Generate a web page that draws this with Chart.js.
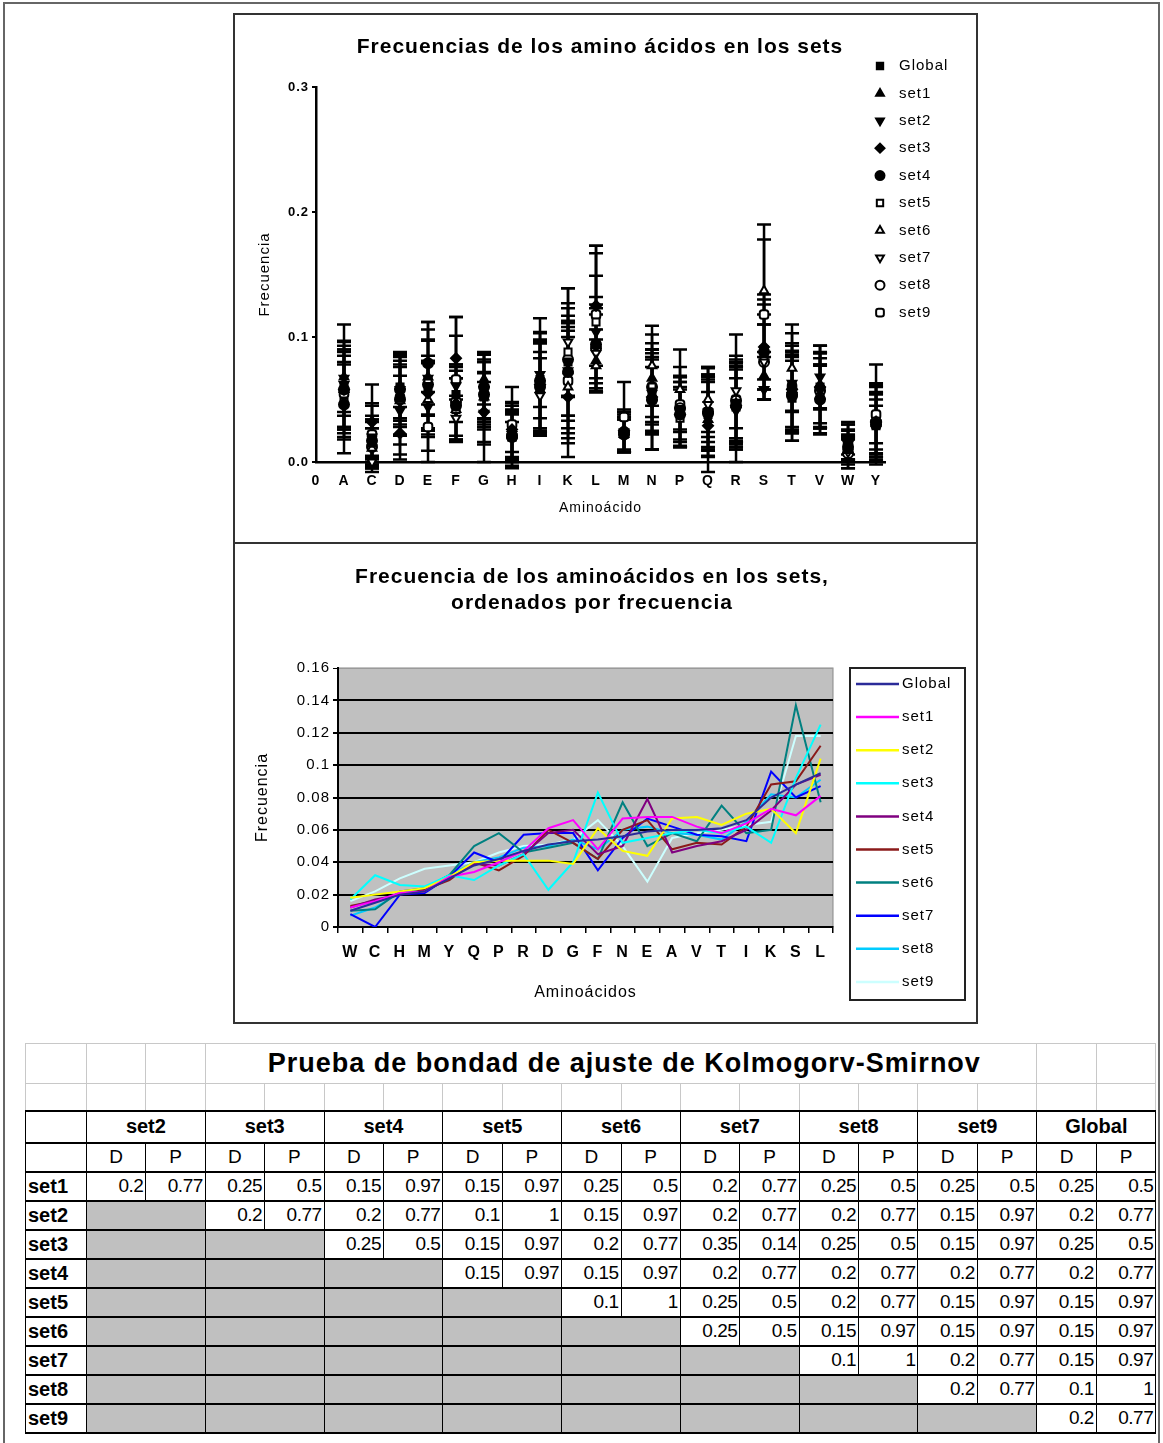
<!DOCTYPE html>
<html>
<head>
<meta charset="utf-8">
<script src="https://cdn.jsdelivr.net/npm/chart.js@4.4.1/dist/chart.umd.min.js"></script>
<style>
  body { margin: 0; background: #fff; font-family: "Liberation Sans", Arial, sans-serif; }
  #marco { position: absolute; left: 3px; top: 2px; width: 1157px; height: 1460px; border: 2px solid #666; box-sizing: border-box; }
  .caja { position: absolute; left: 233px; width: 745px; border: 2px solid #333; box-sizing: border-box; background: #fff; }
  #caja1 { top: 13px; height: 531px; }
  #caja2 { top: 542px; height: 482px; }
  .caja canvas { display: block; }
  #tabla { position: absolute; left: 25px; top: 1043px; width: 1130px; border-collapse: collapse; table-layout: fixed; }
  #tabla td { padding: 0; overflow: hidden; white-space: nowrap; font-family: "Liberation Sans Narrow", "Liberation Sans", Arial, sans-serif; font-size: 19px; color: #000; }
  #tabla td.g { border: 1px solid #c8c8c8; }
  #tabla td.titulo { font-family: "Liberation Sans", Arial, sans-serif; font-weight: bold; font-size: 27px; letter-spacing: 1px; text-align: left; padding-left: 62px; }
  #tabla tr.r0 { height: 40px; }
  #tabla tr.r1 { height: 27px; }
  #tabla tr.rh { height: 32px; }
  #tabla tr.rdp { height: 29px; }
  #tabla tr.rd { height: 29px; }
  #tabla tr.rh td, #tabla tr.rdp td, #tabla tr.rd td { border: 1px solid #000; border-top: 2px solid #000; border-bottom: 2px solid #000; }
  #tabla td.cab { font-weight: bold; text-align: center; font-size: 20px; }
  #tabla td.dp { text-align: center; }
  #tabla td.lab { font-weight: bold; text-align: left; padding-left: 2px; font-size: 20px; }
  #tabla td.num { text-align: right; padding-right: 2px; letter-spacing: -0.5px; }
  #tabla td.gris { background: #c0c0c0; }
</style>
</head>
<body>
<div id="marco"></div>
<div class="caja" id="caja1"><canvas id="graf1" width="741" height="527"></canvas></div>
<div class="caja" id="caja2"><canvas id="graf2" width="741" height="478"></canvas></div>
<table id="tabla"></table>

<script>
// amino acids ordered by global frequency (second chart)
const sortedLetters = ["W","C","H","M","Y","Q","P","R","D","G","F","N","E","A","V","T","I","K","S","L"];
// alphabetical order (first chart)
const alphaLetters = ["A","C","D","E","F","G","H","I","K","L","M","N","P","Q","R","S","T","V","W","Y"];
const seriesNames = ["Global","set1","set2","set3","set4","set5","set6","set7","set8","set9"];

// frequencies, in sortedLetters order
const freqGlobal = [0.010,0.015,0.020,0.022,0.030,0.038,0.042,0.047,0.051,0.053,0.054,0.056,0.059,0.060,0.060,0.061,0.066,0.080,0.088,0.095];
const freqSet1 = [0.012,0.016,0.021,0.022,0.031,0.034,0.040,0.047,0.061,0.066,0.048,0.067,0.068,0.068,0.062,0.058,0.064,0.073,0.069,0.081];
const freqSet2 = [0.018,0.020,0.022,0.024,0.031,0.040,0.041,0.041,0.041,0.039,0.061,0.047,0.044,0.067,0.068,0.063,0.070,0.073,0.058,0.104];
const freqSet3 = [0.017,0.032,0.026,0.025,0.032,0.029,0.038,0.045,0.023,0.040,0.083,0.052,0.055,0.058,0.060,0.058,0.062,0.052,0.092,0.125];
const freqSet4 = [0.012,0.017,0.020,0.022,0.030,0.039,0.038,0.045,0.058,0.060,0.045,0.050,0.079,0.046,0.050,0.053,0.060,0.072,0.088,0.094];
const freqSet5 = [0.013,0.016,0.020,0.023,0.029,0.040,0.035,0.044,0.060,0.052,0.042,0.060,0.066,0.048,0.052,0.051,0.062,0.088,0.090,0.112];
const freqSet6 = [0.010,0.011,0.022,0.024,0.032,0.050,0.058,0.046,0.049,0.052,0.042,0.077,0.050,0.058,0.053,0.075,0.058,0.060,0.137,0.077];
const freqSet7 = [0.008,0.000,0.020,0.021,0.031,0.046,0.040,0.057,0.058,0.058,0.035,0.055,0.067,0.062,0.057,0.056,0.053,0.096,0.080,0.087];
const freqSet8 = [0.007,0.012,0.021,0.024,0.032,0.040,0.043,0.049,0.050,0.054,0.048,0.060,0.062,0.058,0.057,0.054,0.065,0.082,0.080,0.091];
const freqSet9 = [0.016,0.022,0.030,0.036,0.038,0.040,0.046,0.050,0.051,0.054,0.066,0.050,0.028,0.055,0.058,0.060,0.063,0.065,0.118,0.118];

// error bar half-widths, in alphaLetters order
const errGlobal = [0.020,0.012,0.018,0.022,0.022,0.018,0.012,0.022,0.028,0.028,0.012,0.020,0.018,0.018,0.020,0.030,0.020,0.018,0.008,0.015];
const errSet1 = [0.042,0.018,0.026,0.030,0.030,0.020,0.020,0.040,0.040,0.025,0.014,0.035,0.028,0.030,0.030,0.019,0.035,0.031,0.010,0.030];
const errSet2 = [0.030,0.025,0.035,0.035,0.040,0.025,0.025,0.045,0.050,0.045,0.016,0.037,0.028,0.030,0.041,0.008,0.040,0.025,0.012,0.025];
const errSet3 = [0.035,0.030,0.021,0.030,0.033,0.040,0.022,0.035,0.048,0.048,0.017,0.030,0.026,0.037,0.035,0.042,0.030,0.033,0.015,0.028];
const errSet4 = [0.039,0.020,0.028,0.033,0.028,0.026,0.020,0.038,0.045,0.038,0.014,0.040,0.026,0.030,0.035,0.038,0.036,0.028,0.014,0.020];
const errSet5 = [0.030,0.018,0.025,0.040,0.025,0.020,0.018,0.035,0.051,0.055,0.015,0.035,0.023,0.028,0.030,0.040,0.034,0.025,0.012,0.025];
const errSet6 = [0.032,0.016,0.035,0.030,0.025,0.036,0.020,0.037,0.045,0.021,0.016,0.032,0.032,0.026,0.030,0.053,0.035,0.030,0.010,0.031];
const errSet7 = [0.034,0.005,0.030,0.045,0.018,0.028,0.025,0.030,0.043,0.031,0.013,0.032,0.028,0.030,0.045,0.030,0.030,0.030,0.013,0.024];
const errSet8 = [0.030,0.020,0.028,0.035,0.030,0.028,0.018,0.030,0.045,0.035,0.016,0.030,0.025,0.035,0.030,0.030,0.030,0.030,0.012,0.030];
const errSet9 = [0.035,0.025,0.030,0.028,0.050,0.026,0.030,0.040,0.046,0.055,0.028,0.040,0.030,0.030,0.035,0.060,0.035,0.030,0.014,0.040];

// Kolmogorov-Smirnov table
const ksCols = ["set2","set3","set4","set5","set6","set7","set8","set9","Global"];
const ksRows = ["set1","set2","set3","set4","set5","set6","set7","set8","set9"];
const ksD = [
  [0.2,0.25,0.15,0.15,0.25,0.2,0.25,0.25,0.25],
  [0.2,0.2,0.1,0.15,0.2,0.2,0.15,0.2],
  [0.25,0.15,0.2,0.35,0.25,0.15,0.25],
  [0.15,0.15,0.2,0.2,0.2,0.2],
  [0.1,0.25,0.2,0.15,0.15],
  [0.25,0.15,0.15,0.15],
  [0.1,0.2,0.15],
  [0.2,0.1],
  [0.2]
];
const ksP = [
  [0.77,0.5,0.97,0.97,0.5,0.77,0.5,0.5,0.5],
  [0.77,0.77,1,0.97,0.77,0.77,0.97,0.77],
  [0.5,0.97,0.77,0.14,0.5,0.97,0.5],
  [0.97,0.97,0.77,0.77,0.77,0.77],
  [1,0.5,0.77,0.97,0.97],
  [0.5,0.97,0.97,0.97],
  [1,0.77,0.97],
  [0.77,1],
  [0.77]
];

const freqs = [freqGlobal,freqSet1,freqSet2,freqSet3,freqSet4,freqSet5,freqSet6,freqSet7,freqSet8,freqSet9];
const errs = [errGlobal,errSet1,errSet2,errSet3,errSet4,errSet5,errSet6,errSet7,errSet8,errSet9];

// styles
const markers = [
  {pointStyle: "rect", rotation: 0, filled: true},
  {pointStyle: "triangle", rotation: 0, filled: true},
  {pointStyle: "triangle", rotation: 180, filled: true},
  {pointStyle: "rectRot", rotation: 0, filled: true},
  {pointStyle: "circle", rotation: 0, filled: true},
  {pointStyle: "rect", rotation: 0, filled: false},
  {pointStyle: "triangle", rotation: 0, filled: false},
  {pointStyle: "triangle", rotation: 180, filled: false},
  {pointStyle: "circle", rotation: 0, filled: false},
  {pointStyle: "rectRounded", rotation: 0, filled: false},
];
const lineColors = ["#2b2b99","#ff00ff","#ffff00","#00ffff","#800080","#8b1a1a","#008080","#0000ff","#00ccff","#ccffff"];

Chart.defaults.font.family = '"Liberation Sans", Arial, sans-serif';
Chart.defaults.color = "#000";

// slightly wider letter spacing, like the scanned original
const spacing = {
  id: "spacing",
  beforeDraw(chart) { chart.ctx.letterSpacing = "1px"; }
};

// ---------- chart 1 ----------
const errorBars = {
  id: "errorBars",
  beforeDatasetsDraw(chart) {
    const ctx = chart.ctx;
    const ys = chart.scales.y;
    chart.data.datasets.forEach((ds, i) => {
      const meta = chart.getDatasetMeta(i);
      meta.data.forEach((pt, j) => {
        const v = ds.data[j].y, e = ds.errores[j];
        const top = ys.getPixelForValue(v + e), bot = ys.getPixelForValue(v - e);
        ctx.save();
        ctx.strokeStyle = "#000";
        ctx.lineWidth = 2.5;
        ctx.beginPath();
        ctx.moveTo(pt.x, top); ctx.lineTo(pt.x, bot);
        ctx.moveTo(pt.x - 7, top); ctx.lineTo(pt.x + 7, top);
        ctx.moveTo(pt.x - 7, bot); ctx.lineTo(pt.x + 7, bot);
        ctx.stroke();
        ctx.restore();
      });
    });
  }
};

const extras1 = {
  id: "extras1",
  afterDraw(chart) {
    const ctx = chart.ctx;
    ctx.save();
    ctx.fillStyle = "#000";
    ctx.textAlign = "center";
    ctx.textBaseline = "middle";
    ctx.letterSpacing = "1px";
    ctx.font = 'bold 21px "Liberation Sans", Arial, sans-serif';
    ctx.fillText("Frecuencias de los amino ácidos en los sets", 365, 32);
    // legend
    ctx.font = '15px "Liberation Sans", Arial, sans-serif';
    ctx.textAlign = "left";
    chart.data.datasets.forEach((ds, i) => {
      const y = 51 + i * 27.4;
      ctx.fillStyle = ds.pointBackgroundColor;
      ctx.strokeStyle = "#000";
      ctx.lineWidth = 2;
      Chart.helpers.drawPoint(ctx, {pointStyle: ds.pointStyle, rotation: ds.pointRotation, radius: 4.5, borderWidth: 2}, 645, y);
      ctx.fillStyle = "#000";
      ctx.fillText(ds.label, 664, y);
    });
    ctx.restore();
  }
};

const datasets1 = freqs.map((f, i) => ({
  label: seriesNames[i],
  data: alphaLetters.map((l, k) => ({x: k + 1, y: f[sortedLetters.indexOf(l)]})),
  errores: errs[i],
  pointStyle: markers[i].pointStyle,
  pointRotation: markers[i].rotation,
  pointRadius: 5,
  pointBorderWidth: 2,
  pointBorderColor: "#000",
  pointBackgroundColor: markers[i].filled ? "#000" : "#fff",
  showLine: false,
  clip: false,
}));

new Chart(document.getElementById("graf1"), {
  type: "scatter",
  data: {datasets: datasets1},
  options: {
    responsive: false,
    animation: false,
    layout: {padding: {top: 72, right: 91, left: 0, bottom: 0}},
    plugins: {legend: {display: false}, tooltip: {enabled: false}},
    scales: {
      x: {
        type: "linear",
        min: 0,
        max: 20.32,
        afterFit: s => { s.height = 80; },
        border: {color: "#000", width: 2.5},
        grid: {display: false, drawTicks: false},
        ticks: {
          stepSize: 1,
          includeBounds: false,
          autoSkip: false,
          maxRotation: 0,
          padding: 11,
          font: {size: 14, weight: "bold"},
          callback: v => Number.isInteger(v) ? ["0"].concat(alphaLetters)[v] : "",
        },
        title: {display: true, text: "Aminoácido", font: {size: 14}, padding: {top: 0, bottom: 25}},
      },
      y: {
        min: 0,
        max: 0.3,
        afterFit: s => { s.width = 81; },
        border: {color: "#000", width: 2.5},
        grid: {drawOnChartArea: false, drawTicks: true, tickLength: 4, tickColor: "#000", lineWidth: 2},
        ticks: {stepSize: 0.1, padding: 3, font: {size: 13, weight: "bold"}, callback: v => v.toFixed(1)},
        title: {display: true, text: "Frecuencia", font: {size: 15}, padding: {top: 21, bottom: 0}},
      },
    },
  },
  plugins: [spacing, errorBars, extras1],
});

// ---------- chart 2 ----------
const extras2 = {
  id: "extras2",
  beforeDraw(chart) {
    const a = chart.chartArea, ctx = chart.ctx;
    ctx.save();
    ctx.fillStyle = "#c0c0c0";
    ctx.fillRect(a.left, a.top, a.right - a.left, a.bottom - a.top);
    ctx.strokeStyle = "#888";
    ctx.lineWidth = 1;
    ctx.strokeRect(a.left, a.top, a.right - a.left, a.bottom - a.top);
    ctx.restore();
  },
  afterDraw(chart) {
    const ctx = chart.ctx;
    ctx.save();
    ctx.fillStyle = "#000";
    ctx.textAlign = "center";
    ctx.textBaseline = "middle";
    ctx.letterSpacing = "1px";
    ctx.font = 'bold 21px "Liberation Sans", Arial, sans-serif';
    ctx.fillText("Frecuencia de los aminoácidos en los sets,", 357, 33);
    ctx.fillText("ordenados por frecuencia", 357, 59);
    // legend box
    ctx.strokeStyle = "#222";
    ctx.lineWidth = 2;
    ctx.fillStyle = "#fff";
    ctx.fillRect(615, 124, 115, 332);
    ctx.strokeRect(615, 124, 115, 332);
    ctx.font = '15px "Liberation Sans", Arial, sans-serif';
    ctx.textAlign = "left";
    chart.data.datasets.forEach((ds, i) => {
      const y = 140 + i * 33.1;
      ctx.strokeStyle = ds.borderColor;
      ctx.lineWidth = 2.5;
      ctx.beginPath();
      ctx.moveTo(621, y); ctx.lineTo(664, y);
      ctx.stroke();
      ctx.fillStyle = "#000";
      ctx.fillText(ds.label, 667, y);
    });
    ctx.restore();
  }
};

new Chart(document.getElementById("graf2"), {
  type: "line",
  data: {
    labels: sortedLetters,
    datasets: freqs.map((f, i) => ({
      label: seriesNames[i],
      data: f,
      borderColor: lineColors[i],
      backgroundColor: lineColors[i],
      borderWidth: 2,
      pointRadius: 0,
      tension: 0,
    })),
  },
  options: {
    responsive: false,
    animation: false,
    layout: {padding: {top: 124, right: 143, left: 0, bottom: 0}},
    plugins: {legend: {display: false}, tooltip: {enabled: false}},
    scales: {
      x: {
        offset: true,
        afterFit: s => { s.height = 95; },
        border: {color: "#000", width: 2},
        grid: {offset: true, drawOnChartArea: false, drawTicks: true, tickLength: 6, tickColor: "#000", lineWidth: 1.5},
        ticks: {autoSkip: false, maxRotation: 0, padding: 10, font: {size: 16, weight: "bold"}},
        title: {display: true, text: "Aminoácidos", font: {size: 16}, padding: {top: 0, bottom: 20}},
      },
      y: {
        min: 0,
        max: 0.16,
        afterFit: s => { s.width = 103; },
        border: {color: "#000", width: 2},
        grid: {
          color: c => (c.tick && c.tick.value > 0.15) ? "#9a9a9a" : "#000",
          lineWidth: c => (c.tick && c.tick.value > 0.15) ? 1 : 2,
          drawTicks: true, tickLength: 5, tickColor: "#000",
        },
        ticks: {stepSize: 0.02, padding: 3, font: {size: 15}, callback: v => String(+v.toFixed(2))},
        title: {display: true, text: "Frecuencia", font: {size: 16}, padding: {top: 18, bottom: 0}},
      },
    },
  },
  plugins: [spacing, extras2],
});

// ---------- table ----------
let html = '<colgroup><col style="width:61px">' + '<col style="width:59.4px">'.repeat(18) + '</colgroup>';
html += '<tr class="r0"><td class="g"></td><td class="g"></td><td class="g"></td>' +
  '<td class="g titulo" colspan="14">Prueba de bondad de ajuste de Kolmogorv-Smirnov</td><td class="g"></td><td class="g"></td></tr>';
html += '<tr class="r1">' + '<td class="g"></td>'.repeat(19) + '</tr>';
html += '<tr class="rh"><td></td>' + ksCols.map(c => '<td colspan="2" class="cab">' + c + '</td>').join("") + '</tr>';
html += '<tr class="rdp"><td></td>' + ksCols.map(() => '<td class="dp">D</td><td class="dp">P</td>').join("") + '</tr>';
ksRows.forEach((r, i) => {
  html += '<tr class="rd"><td class="lab">' + r + '</td>';
  ksCols.forEach((c, j) => {
    if (j < i) html += '<td colspan="2" class="gris"></td>';
    else html += '<td class="num">' + ksD[i][j - i] + '</td><td class="num">' + ksP[i][j - i] + '</td>';
  });
  html += '</tr>';
});
document.getElementById("tabla").innerHTML = html;
</script>
</body>
</html>
